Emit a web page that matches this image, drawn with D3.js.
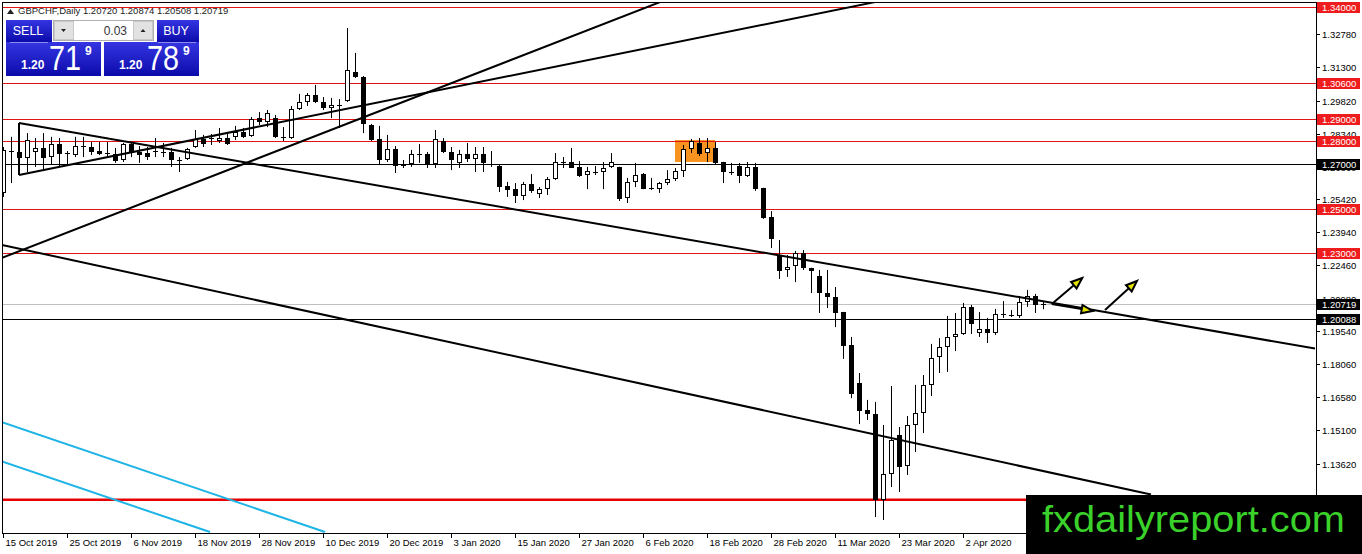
<!DOCTYPE html>
<html><head><meta charset="utf-8">
<script src="https://cdn.jsdelivr.net/npm/d3@7/dist/d3.min.js"></script>
<style>html,body{margin:0;padding:0;background:#fff;overflow:hidden}text{font-family:"Liberation Sans",Arial,sans-serif}</style>
</head><body><svg id="c" width="1362" height="554"></svg>
<script>
// ---------------- DATA ----------------
const symbolTitle = "GBPCHF,Daily  1.20720 1.20874 1.20508 1.20719";
const dates = [
"2019-10-15","2019-10-16","2019-10-17","2019-10-18","2019-10-21","2019-10-22","2019-10-23","2019-10-24","2019-10-25","2019-10-28","2019-10-29","2019-10-30","2019-10-31",
"2019-11-01","2019-11-04","2019-11-05","2019-11-06","2019-11-07","2019-11-08","2019-11-11","2019-11-12","2019-11-13","2019-11-14","2019-11-15","2019-11-18","2019-11-19","2019-11-20","2019-11-21","2019-11-22","2019-11-25","2019-11-26","2019-11-27","2019-11-28","2019-11-29",
"2019-12-02","2019-12-03","2019-12-04","2019-12-05","2019-12-06","2019-12-09","2019-12-10","2019-12-11","2019-12-12","2019-12-13","2019-12-16","2019-12-17","2019-12-18","2019-12-19","2019-12-20","2019-12-23","2019-12-24","2019-12-26","2019-12-27","2019-12-30","2019-12-31",
"2020-01-02","2020-01-03","2020-01-06","2020-01-07","2020-01-08","2020-01-09","2020-01-10","2020-01-13","2020-01-14","2020-01-15","2020-01-16","2020-01-17","2020-01-20","2020-01-21","2020-01-22","2020-01-23","2020-01-24","2020-01-27","2020-01-28","2020-01-29","2020-01-30","2020-01-31",
"2020-02-03","2020-02-04","2020-02-05","2020-02-06","2020-02-07","2020-02-10","2020-02-11","2020-02-12","2020-02-13","2020-02-14","2020-02-17","2020-02-18","2020-02-19","2020-02-20","2020-02-21","2020-02-24","2020-02-25","2020-02-26","2020-02-27","2020-02-28",
"2020-03-02","2020-03-03","2020-03-04","2020-03-05","2020-03-06","2020-03-09","2020-03-10","2020-03-11","2020-03-12","2020-03-13","2020-03-16","2020-03-17","2020-03-18","2020-03-19","2020-03-20","2020-03-23","2020-03-24","2020-03-25","2020-03-26","2020-03-27","2020-03-30","2020-03-31",
"2020-04-01","2020-04-02","2020-04-03","2020-04-06","2020-04-07","2020-04-08","2020-04-09","2020-04-10","2020-04-13","2020-04-14","2020-04-15","2020-04-16"];

const openP = [1.2570,1.2757,1.2753,1.2726,1.2753,1.2771,1.2730,1.2788,1.2748,1.2739,1.2779,1.2775,1.2757,1.2748,1.2744,1.2717,1.2788,1.2753,1.2748,1.2757,
1.2753,1.2753,1.2717,1.2721,1.2775,1.2811,1.2815,1.2802,1.2815,1.2820,1.2842,1.2824,1.2904,1.2887,1.2904,1.2820,1.2815,1.2945,1.2976,1.3007,
1.2976,1.2949,1.2963,1.2980,1.3110,1.3088,1.2873,1.2811,1.2717,1.2766,1.2695,1.2699,1.2744,1.2744,1.2699,1.2802,1.2753,1.2704,1.2744,1.2721,
1.2744,1.2699,1.2690,1.2601,1.2587,1.2556,1.2610,1.2565,1.2587,1.2632,1.2708,1.2708,1.2686,1.2650,1.2663,1.2663,1.2686,1.2686,1.2547,1.2619,
1.2654,1.2592,1.2587,1.2614,1.2632,1.2668,1.2766,1.2793,1.2748,1.2771,1.2708,1.2663,1.2690,1.2646,1.2686,1.2592,1.2462,1.2293,1.2226,1.2244,
1.2302,1.2235,1.2199,1.2123,1.2105,1.2038,1.1891,1.1721,1.1601,1.1583,1.1199,1.1315,1.1489,1.1351,1.1534,1.1587,1.1713,1.1837,1.1882,1.1927,
1.1940,1.2061,1.1945,1.1963,1.1945,1.2029,1.2025,1.2021,1.2083,1.2110,1.20720];
const highP = [1.2775,1.2820,1.2806,1.2837,1.2815,1.2837,1.2820,1.2815,1.2757,1.2820,1.2820,1.2797,1.2797,1.2797,1.2771,1.2793,1.2797,1.2779,1.2775,1.2815,
1.2793,1.2771,1.2730,1.2771,1.2851,1.2829,1.2833,1.2860,1.2837,1.2869,1.2860,1.2909,1.2931,1.2940,1.2918,1.2864,1.2958,1.3012,1.3016,1.3052,
1.2998,1.2994,1.2989,1.3306,1.3195,1.3092,1.2878,1.2869,1.2829,1.2779,1.2717,1.2762,1.2788,1.2753,1.2851,1.2815,1.2775,1.2762,1.2793,1.2775,
1.2775,1.2757,1.2695,1.2619,1.2614,1.2619,1.2654,1.2596,1.2641,1.2748,1.2730,1.2771,1.2712,1.2686,1.2690,1.2708,1.2748,1.2687,1.2637,1.2704,
1.2659,1.2637,1.2619,1.2672,1.2681,1.2784,1.2811,1.2815,1.2815,1.2797,1.2709,1.2704,1.2704,1.2708,1.2704,1.2593,1.2489,1.2360,1.2293,1.2311,
1.2315,1.2236,1.2226,1.2226,1.2150,1.2039,1.1927,1.1766,1.1646,1.1637,1.1534,1.1708,1.1525,1.1574,1.1713,1.1757,1.1896,1.1922,1.2021,1.2034,
1.2079,1.2070,1.2038,1.2012,1.2052,1.2087,1.2047,1.2110,1.2137,1.2119,1.20874];
const lowP = [1.2552,1.2614,1.2659,1.2663,1.2686,1.2672,1.2695,1.2686,1.2695,1.2730,1.2730,1.2739,1.2739,1.2730,1.2704,1.2708,1.2730,1.2704,1.2717,1.2730,
1.2730,1.2686,1.2663,1.2717,1.2771,1.2775,1.2784,1.2793,1.2784,1.2806,1.2815,1.2820,1.2873,1.2864,1.2815,1.2802,1.2811,1.2940,1.2958,1.2971,
1.2940,1.2904,1.2860,1.2976,1.3083,1.2837,1.2802,1.2699,1.2708,1.2659,1.2681,1.2686,1.2704,1.2681,1.2681,1.2748,1.2672,1.2681,1.2708,1.2663,
1.2663,1.2686,1.2574,1.2552,1.2525,1.2538,1.2570,1.2547,1.2561,1.2628,1.2681,1.2681,1.2641,1.2587,1.2650,1.2587,1.2681,1.2534,1.2525,1.2596,
1.2587,1.2583,1.2570,1.2605,1.2623,1.2641,1.2748,1.2735,1.2708,1.2695,1.2614,1.2650,1.2614,1.2641,1.2579,1.2454,1.2324,1.2186,1.2195,1.2172,
1.2226,1.2123,1.2034,1.2056,1.1971,1.1829,1.1654,1.1538,1.1556,1.1123,1.1110,1.1257,1.1235,1.1311,1.1413,1.1498,1.1663,1.1766,1.1771,1.1864,
1.1936,1.1940,1.1927,1.1900,1.1936,1.2012,1.2016,1.2012,1.2061,1.2034,1.20508];
const closeP = [1.2762,1.2753,1.2726,1.2806,1.2771,1.2726,1.2788,1.2744,1.2749,1.2779,1.2780,1.2753,1.2744,1.2747,1.2712,1.2788,1.2748,1.2739,1.2730,1.2756,
1.2752,1.2717,1.2716,1.2766,1.2811,1.2788,1.2816,1.2815,1.2788,1.2842,1.2820,1.2900,1.2887,1.2927,1.2820,1.2819,1.2945,1.2976,1.3007,1.2976,
1.2949,1.2963,1.2962,1.3119,1.3088,1.2878,1.2806,1.2717,1.2766,1.2690,1.2694,1.2744,1.2743,1.2699,1.2811,1.2753,1.2717,1.2744,1.2721,1.2744,
1.2704,1.2698,1.2596,1.2583,1.2556,1.2610,1.2579,1.2587,1.2632,1.2708,1.2709,1.2682,1.2646,1.2668,1.2664,1.2681,1.2708,1.2543,1.2619,1.2650,
1.2588,1.2591,1.2614,1.2632,1.2668,1.2766,1.2802,1.2744,1.2771,1.2704,1.2663,1.2662,1.2646,1.2686,1.2587,1.2458,1.2364,1.2221,1.2239,1.2302,
1.2235,1.2221,1.2123,1.2105,1.2034,1.1887,1.1672,1.1596,1.1583,1.1199,1.1315,1.1467,1.1346,1.1534,1.1587,1.1713,1.1833,1.1882,1.1927,1.1940,
1.2061,1.1985,1.1963,1.1945,1.2029,1.2030,1.2026,1.2083,1.2110,1.2070,1.20719];

const priceTicks = [1.3278,1.3130,1.2982,1.2834,1.2686,1.2542,1.2394,1.2246,1.2098,1.1954,1.1806,1.1658,1.1510,1.1362,1.1214];
const dateTicks = ["2019-10-15","2019-10-25","2019-11-06","2019-11-18","2019-11-28","2019-12-10","2019-12-20","2020-01-03","2020-01-15","2020-01-27","2020-02-06","2020-02-18","2020-02-28","2020-03-11","2020-03-23","2020-04-02"];

// horizontal levels
const redLevels = [1.34, 1.306, 1.29, 1.28, 1.25, 1.23];
const blackLevels = [1.27, 1.20088];
const supportLevel = 1.12;
const bidLevel = 1.20719;

// trend lines: [barIndex, price] pairs
const trendLines = [
  [[2, 1.2882], [164, 1.1875]],
  [[-0.125, 1.2338], [143.5, 1.1224]],
  [[-0.125, 1.2280], [82.125, 1.3422]],
  [[2, 1.2650], [109, 1.3422]],
  [[2, 1.2882], [2, 1.2650]]
];
const blueLines = [
  [[-0.125, 1.1547], [40.25, 1.1056]],
  [[-0.125, 1.1371], [25.875, 1.1056]]
];
const arrows = [
  [[131.1, 1.2074], [134.9, 1.2190]],
  [[131.1, 1.2074], [136.2, 1.2043]],
  [[137.75, 1.2047], [141.75, 1.2177]]
];
const zoneBox = {i0: 84, i1: 89, top: 1.2806, bottom: 1.2708};
const sellQuote = ["1.20", "71", "9"];
const buyQuote = ["1.20", "78", "9"];
const lotSize = "0.03";

// ---------------- CHART ----------------
const svg = d3.select("#c");
const L = 2, R = 1316, T = 2, B = 533;
const xi = d3.scaleLinear().domain([0, dates.length - 1]).range([3, 3 + 8 * (dates.length - 1)]);
const y = d3.scaleLinear().domain([1.12, 1.34]).range([499.8, 7]);
const fmt = d3.format(".5f");
const idx = d => dates.indexOf(d);

svg.append("rect").attr("width", 1362).attr("height", 554).attr("fill", "#ffffff");
const defs = svg.append("defs");
defs.append("clipPath").attr("id", "plot").append("rect").attr("x", L).attr("y", T).attr("width", R - L).attr("height", B - T);
const g = svg.append("g").attr("clip-path", "url(#plot)");

// zone
g.append("rect").attr("x", xi(zoneBox.i0)).attr("y", y(zoneBox.top))
  .attr("width", xi(zoneBox.i1) - xi(zoneBox.i0)).attr("height", y(zoneBox.bottom) - y(zoneBox.top))
  .attr("fill", "#f7931e");

// horizontal levels
const hy = v => Math.round(y(v)) + 0.5;
function hline(v, color, w) {
  g.append("line").attr("x1", L).attr("x2", R).attr("y1", hy(v)).attr("y2", hy(v))
    .style("stroke", color).style("stroke-width", w).style("shape-rendering", "crispEdges");
}
hline(bidLevel, "#c0c0c0", 1);
redLevels.forEach(v => hline(v, "#e01414", 1));
blackLevels.forEach(v => hline(v, "#000000", 1));
g.append("line").attr("x1", L).attr("x2", R).attr("y1", y(supportLevel)).attr("y2", y(supportLevel))
  .style("stroke", "#e80000").style("stroke-width", 2.5);

// candles
const bars = dates.map((d, i) => ({i, o: openP[i], h: highP[i], l: lowP[i], c: closeP[i]}));
const cg = g.append("g");
bars.forEach(b => {
  const cx = Math.round(xi(b.i));
  cg.append("line").attr("x1", cx + 0.5).attr("x2", cx + 0.5).attr("y1", y(b.h)).attr("y2", y(b.l)).style("stroke", "#000");
  const yo = y(b.o), yc = y(b.c);
  const top = Math.round(Math.min(yo, yc)), bot = Math.round(Math.max(yo, yc));
  if (bot - top < 1.5) {
    cg.append("line").attr("x1", cx - 2).attr("x2", cx + 3).attr("y1", top + 0.5).attr("y2", top + 0.5).style("stroke", "#000");
  } else {
    cg.append("rect").attr("x", cx - 1.5).attr("y", top + 0.5).attr("width", 4).attr("height", bot - top - 1)
      .style("fill", b.c >= b.o ? "#fff" : "#000").style("stroke", "#000");
  }
});

// trend lines
const pt = p => [xi(p[0]), y(p[1])];
function seg(d, color, w) {
  const a = pt(d[0]), b = pt(d[1]);
  g.append("line").attr("x1", a[0]).attr("y1", a[1]).attr("x2", b[0]).attr("y2", b[1])
    .style("stroke", color).style("stroke-width", w);
}
trendLines.forEach(d => seg(d, "#000", 2));
blueLines.forEach(d => seg(d, "#1eb4e6", 2));

// arrows
arrows.forEach(a => {
  const [x1, y1] = pt(a[0]), [x2, y2] = pt(a[1]);
  const ang = Math.atan2(y2 - y1, x2 - x1);
  const len = 11, hw = 4.2;
  const bx = x2 - len * Math.cos(ang), by = y2 - len * Math.sin(ang);
  g.append("line").attr("x1", x1).attr("y1", y1).attr("x2", bx).attr("y2", by).style("stroke", "#000").style("stroke-width", 2);
  const p1 = [bx + hw * Math.sin(ang), by - hw * Math.cos(ang)], p2 = [bx - hw * Math.sin(ang), by + hw * Math.cos(ang)];
  g.append("path").attr("d", `M${x2},${y2}L${p1[0]},${p1[1]}L${p2[0]},${p2[1]}Z`)
    .style("fill", "#e4e400").style("stroke", "#000").style("stroke-width", 2).style("stroke-linejoin", "miter");
});

// frame
svg.append("rect").attr("x", L + 0.5).attr("y", T + 0.5).attr("width", R - L).attr("height", B - T)
  .style("fill", "none").style("stroke", "#000");

// price axis
const ax = svg.append("g");
priceTicks.forEach(v => {
  const yy = Math.round(y(v)) + 0.5;
  ax.append("line").attr("x1", R).attr("x2", R + 4).attr("y1", yy).attr("y2", yy).style("stroke", "#000");
  ax.append("text").attr("x", 1322).attr("y", yy + 3.5).attr("font-size", 9.5).attr("fill", "#000").text(fmt(v));
});
function priceBox(v, color) {
  const yy = Math.round(y(v)) + 0.5;
  ax.append("rect").attr("x", 1317).attr("y", yy - 5.5).attr("width", 43).attr("height", 11).style("fill", color);
  ax.append("text").attr("x", 1322).attr("y", yy + 3.5).attr("font-size", 9.5).attr("fill", "#fff").text(fmt(v));
}
redLevels.forEach(v => priceBox(v, "#ee1c1c"));
priceBox(supportLevel, "#ee1c1c");
blackLevels.forEach(v => priceBox(v, "#000"));
priceBox(bidLevel, "#000");

// date axis
const fd = d3.timeFormat("%-d %b %Y"), pd = d3.timeParse("%Y-%m-%d");
dateTicks.forEach(d => {
  const xx = Math.round(xi(idx(d))) + 0.5;
  ax.append("line").attr("x1", xx).attr("x2", xx).attr("y1", B).attr("y2", B + 5).style("stroke", "#000");
  ax.append("text").attr("x", xx + 2).attr("y", 546).attr("font-size", 9.5).attr("fill", "#000").text(fd(pd(d)));
});

// header
svg.append("path").attr("d", "M7,14L10.5,9L14,14Z").style("fill", "#222");
svg.append("text").attr("x", 18).attr("y", 14).attr("font-size", 9.5).attr("fill", "#222").text(symbolTitle);

// trade panel
const grad = defs.append("linearGradient").attr("id", "bg").attr("x1", 0).attr("y1", 0).attr("x2", 0).attr("y2", 1);
grad.append("stop").attr("offset", "0%").attr("stop-color", "#3535e2");
grad.append("stop").attr("offset", "100%").attr("stop-color", "#0b0bab");
const panel = svg.append("g");
panel.append("rect").attr("x", 6).attr("y", 20).attr("width", 46).attr("height", 22).style("fill", "url(#bg)");
panel.append("rect").attr("x", 157).attr("y", 20).attr("width", 42).attr("height", 22).style("fill", "url(#bg)");
panel.append("rect").attr("x", 6).attr("y", 42).attr("width", 95).attr("height", 34).style("fill", "url(#bg)");
panel.append("rect").attr("x", 104).attr("y", 42).attr("width", 95).attr("height", 34).style("fill", "url(#bg)");
panel.append("line").attr("x1", 10).attr("x2", 48).attr("y1", 42.5).attr("y2", 42.5).style("stroke", "#8c8cf0");
panel.append("line").attr("x1", 158).attr("x2", 196).attr("y1", 42.5).attr("y2", 42.5).style("stroke", "#8c8cf0");
panel.append("text").attr("x", 28).attr("y", 35).attr("text-anchor", "middle").attr("font-size", 12.5).attr("fill", "#fff").text("SELL");
panel.append("text").attr("x", 176).attr("y", 35).attr("text-anchor", "middle").attr("font-size", 12.5).attr("fill", "#fff").text("BUY");
panel.append("rect").attr("x", 53.5).attr("y", 20.5).attr("width", 100).attr("height", 20).style("fill", "#fff").style("stroke", "#b0b0b0");
panel.append("rect").attr("x", 54.5).attr("y", 21.5).attr("width", 19).attr("height", 18).style("fill", "#e2e2e2").style("stroke", "#c8c8c8");
panel.append("rect").attr("x", 133.5).attr("y", 21.5).attr("width", 19).attr("height", 18).style("fill", "#e2e2e2").style("stroke", "#c8c8c8");
panel.append("path").attr("d", "M61,29L66,29L63.5,32Z").style("fill", "#222");
panel.append("path").attr("d", "M140.5,32L145.5,32L143,29Z").style("fill", "#222");
panel.append("text").attr("x", 127).attr("y", 35).attr("text-anchor", "end").attr("font-size", 12).attr("fill", "#333").text(lotSize);
function quote(q, x0) {
  panel.append("text").attr("x", x0).attr("y", 69).attr("font-size", 12).attr("font-weight", "bold").attr("fill", "#fff").text(q[0]);
  panel.append("text").attr("x", x0 + 28).attr("y", 70).attr("font-size", 35).attr("fill", "#fff")
    .attr("textLength", 32).attr("lengthAdjust", "spacingAndGlyphs").text(q[1]);
  panel.append("text").attr("x", x0 + 64).attr("y", 55).attr("font-size", 12).attr("font-weight", "bold").attr("fill", "#fff").text(q[2]);
}
quote(sellQuote, 21);
quote(buyQuote, 119);

// watermark box
svg.append("rect").attr("x", 1026).attr("y", 495).attr("width", 336).attr("height", 59).style("fill", "#000");
svg.append("text").attr("x", 1042).attr("y", 532).attr("font-size", 37).attr("fill", "#3bd12b")
  .attr("textLength", 303).attr("lengthAdjust", "spacingAndGlyphs").text("fxdailyreport.com");
</script>
</body></html>
